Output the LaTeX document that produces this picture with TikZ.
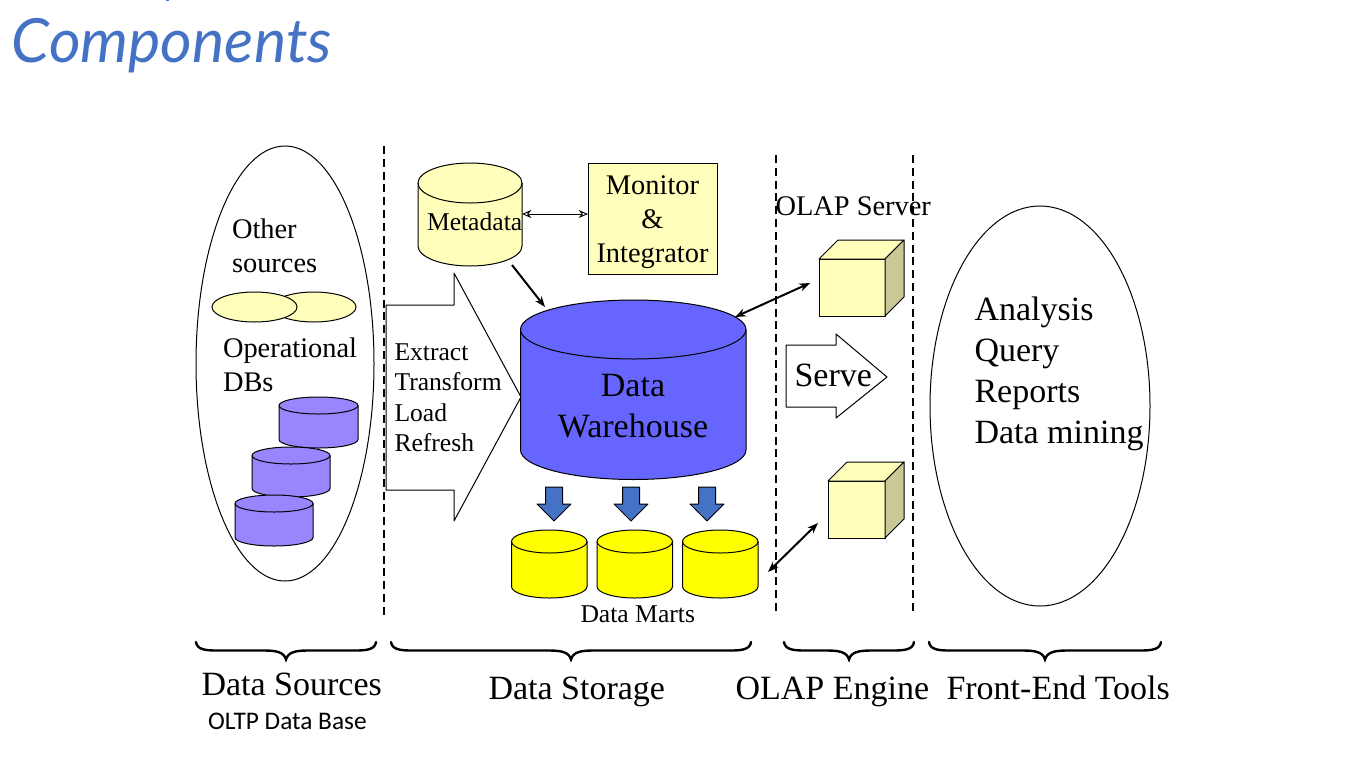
\documentclass[tikz,border=0pt]{standalone}
\usepackage{fontspec}
\setmainfont{Liberation Serif}
\newfontfamily\carl{Carlito}
\newfontfamily\titlef{Lato}
\usetikzlibrary{arrows.meta,shapes.geometric}
\definecolor{paleY}{HTML}{FFFFBB}
\definecolor{sideY}{HTML}{C9C995}
\definecolor{purp}{HTML}{9A85FF}
\definecolor{dwblue}{HTML}{6666FF}
\definecolor{arrblue}{HTML}{4472C4}
\definecolor{titleblue}{HTML}{4472C4}
\definecolor{martY}{HTML}{FFFF00}
\tikzset{
  x=0.75pt,y=-0.75pt,
  outline/.style={draw=black,line width=0.75pt,line join=round},
  divider/.style={draw=black,line width=1.3pt,dash pattern=on 6pt off 3.6pt},
  dbl/.style={draw=black,line width=0.7pt,{Stealth[length=7pt,width=6pt,open,fill=white]}-{Stealth[length=7pt,width=6pt,open,fill=white]}},
  dblthick/.style={draw=black,line width=1.5pt,{Stealth[length=8pt,width=6pt]}-{Stealth[length=8pt,width=6pt]}},
  oneway/.style={draw=black,line width=1.5pt,-{Stealth[length=8pt,width=6pt]}},
  lab/.style={anchor=base west,inner sep=0pt,outer sep=0pt},
  cen/.style={anchor=base,inner sep=0pt,outer sep=0pt},
  bracestroke/.style={draw=black,line width=1.8pt,line cap=round},
  ell/.style={ellipse,draw=black,line width=0.75pt,inner sep=0pt,outer sep=0pt},
  fs19/.style={font=\fontsize{19.2}{19.2}\selectfont},
  fs21/.style={font=\fontsize{21.3}{21.3}\selectfont},
  fs25/.style={font=\fontsize{25.5}{25.5}\selectfont},
}
% #1 left x, #2 right x, #3 top y, #4 bottom y, #5 ry, #6 fill
\newcommand{\mycyl}[6]{%
  \pgfmathsetmacro{\cxx}{(#1+#2)/2}%
  \pgfmathsetmacro{\kx}{0.5523*(#2-#1)/2}%
  \pgfmathsetmacro{\ky}{0.5523*#5}%
  \pgfmathsetmacro{\ya}{#3+#5}%
  \pgfmathsetmacro{\yb}{#4-#5}%
  \pgfmathsetmacro{\yc}{#3+2*#5}%
  \path[outline,fill=#6] (#1,\ya) -- (#1,\yb)
    .. controls (#1,\yb+\ky) and (\cxx-\kx,#4) .. (\cxx,#4)
    .. controls (\cxx+\kx,#4) and (#2,\yb+\ky) .. (#2,\yb)
    -- (#2,\ya)
    .. controls (#2,\ya-\ky) and (\cxx+\kx,#3) .. (\cxx,#3)
    .. controls (\cxx-\kx,#3) and (#1,\ya-\ky) .. (#1,\ya) -- cycle;
  \path[outline] (#1,\ya)
    .. controls (#1,\ya+\ky) and (\cxx-\kx,\yc) .. (\cxx,\yc)
    .. controls (\cxx+\kx,\yc) and (#2,\ya+\ky) .. (#2,\ya);
}
% #1 front left, #2 front right, #3 front top, #4 front bottom, #5 depth
\newcommand{\mycube}[5]{%
  \path[outline,fill=paleY] (#1,#3) rectangle (#2,#4);
  \path[outline,fill=paleY] (#1,#3) -- (#1+#5,#3-#5) -- (#2+#5,#3-#5) -- (#2,#3) -- cycle;
  \path[outline,fill=sideY] (#2,#3) -- (#2+#5,#3-#5) -- (#2+#5,#4-#5) -- (#2,#4) -- cycle;
}
% #1 left, #2 mid, #3 right
\newcommand{\mybrace}[3]{%
  \path[bracestroke] (#1,642) .. controls (#1+1,649) and (#1+8,650.5) .. (#1+20,650.5)
    -- (#2-22,650.5) .. controls (#2-10,650.5) and (#2-2,652) .. (#2,659.5)
    .. controls (#2+2,652) and (#2+10,650.5) .. (#2+22,650.5)
    -- (#3-20,650.5) .. controls (#3-8,650.5) and (#3-1,649) .. (#3,642);
}
% #1 centre x
\newcommand{\mydown}[1]{%
  \path[outline,fill=arrblue] (#1-8.5,487) -- (#1+8.5,487) -- (#1+8.5,504) -- (#1+17,504)
    -- (#1,521) -- (#1-17,504) -- (#1-8.5,504) -- cycle;
}
\begin{document}
\begin{tikzpicture}
\useasboundingbox (0,0) rectangle (1366,768);
\fill[white] (0,0) rectangle (1366,768);
% title
\node[lab,text=titleblue,font=\titlef\itshape\fontsize{45.7}{45.7}\selectfont] (title) at (12,62) {Components};
\fill[titleblue] (166,0) rectangle (169,1.2);
% dividers
\draw[divider] (384,146) -- (384,616);
\draw[divider] (776,155) -- (776,612);
\draw[divider] (913,155) -- (913,612);
% large ellipses
\node[ell,minimum width=133.5pt,minimum height=326.25pt] (srcEll) at (285,363.5) {};
\node[ell,minimum width=165pt,minimum height=300pt] (toolEll) at (1040,406) {};
% other sources
\node[ell,fill=paleY,minimum width=63pt,minimum height=22.5pt] (oth2) at (314,307) {};
\node[ell,fill=paleY,minimum width=63.75pt,minimum height=22.5pt] (oth1) at (254.5,307) {};
\node[lab,fs21] (tOther) at (232,238) {Other};
\node[lab,fs21] (tSources) at (232,272) {sources};
\node[lab,fs21] (tOper) at (223,357) {Operational};
\node[lab,fs21] (tDBs) at (223,391) {DBs};
% operational DBs
\mycyl{279}{358}{397}{448}{8.5}{purp}
\mycyl{252}{330}{447}{497}{8.5}{purp}
\mycyl{235}{313}{495}{546}{8.5}{purp}
% big arrow
\path[outline,fill=white] (386,305) -- (454,305) -- (454,273) -- (521,397) -- (454,521) -- (454,490) -- (386,490) -- cycle;
\node[lab,fs19] (tE) at (394.5,360) {Extract};
\node[lab,fs19] (tT) at (394.5,390) {Transform};
\node[lab,fs19] (tL) at (394.5,421) {Load};
\node[lab,fs19] (tR) at (394.5,451) {Refresh};
% metadata
\mycyl{418}{522}{163}{266}{20}{paleY}
\node[lab,fs19] (tMeta) at (427,230) {Metadata};
% monitor
\path[outline,fill=paleY] (588.5,163.5) rectangle (717,274);
\node[cen,fs21] (tMon) at (652.5,194) {Monitor};
\node[cen,fs21] (tAmp) at (652.5,228) {\&};
\node[cen,fs21] (tInt) at (652.5,262) {Integrator};
\coordinate (metaR) at (522,214);
\coordinate (monL) at (588,214);
\draw[dbl] (metaR) -- (monL);
% warehouse
\mycyl{520.5}{746}{300}{479.5}{29.5}{dwblue}
\node[cen,fs25] (tData) at (633,396) {Data};
\node[cen,fs25] (tWare) at (633,437) {Warehouse};
\coordinate (metaB) at (512,265);
\coordinate (dwTop) at (545,307);
\draw[oneway] (metaB) -- (dwTop);
% marts
\mydown{554}\mydown{631}\mydown{707}
\mycyl{511.5}{587}{530}{598}{11.5}{martY}
\mycyl{597}{672.5}{530}{598}{11.5}{martY}
\mycyl{682.5}{758}{530}{598}{11.5}{martY}
\node[lab,fs19] (tMarts) at (580.5,622) {Data Marts};
% OLAP
\node[lab,fs21] (tOlap) at (775.5,215) {OLAP Server};
\mycube{819}{885}{259}{316}{19}
\mycube{828}{885}{481}{538}{19}
\coordinate (dwTR) at (735,317);
\coordinate (cubeA) at (810,283);
\draw[dblthick] (dwTR) -- (cubeA);
\coordinate (martR) at (768,572);
\coordinate (cubeB) at (818,523);
\draw[dblthick] (martR) -- (cubeB);
% serve
\path[outline,fill=white] (786,345) -- (836,345) -- (836,334) -- (887,377) -- (836,418) -- (836,407) -- (786,407) -- cycle;
\node[lab,fs25] (tServe) at (794.5,386) {Serve};
% tools
\node[lab,fs25] (tAna) at (974.5,320) {Analysis};
\node[lab,fs25] (tQue) at (974.5,361) {Query};
\node[lab,fs25] (tRep) at (974.5,402) {Reports};
\node[lab,fs25] (tMin) at (974.5,443) {Data mining};
% braces
\mybrace{196}{286}{376}
\mybrace{391}{571}{751}
\mybrace{784}{849}{914}
\mybrace{929}{1045}{1161}
\node[lab,fs25] (bSrc) at (201.5,695) {Data Sources};
\node[lab,font=\carl\fontsize{19}{19}\selectfont] (bOltp) at (208,729) {OLTP Data Base};
\node[lab,fs25] (bSto) at (488.5,699) {Data Storage};
\node[lab,fs25] (bOla) at (735.5,699) {OLAP Engine};
\node[lab,fs25] (bFro) at (946.5,699) {Front-End Tools};
\end{tikzpicture}
\end{document}
